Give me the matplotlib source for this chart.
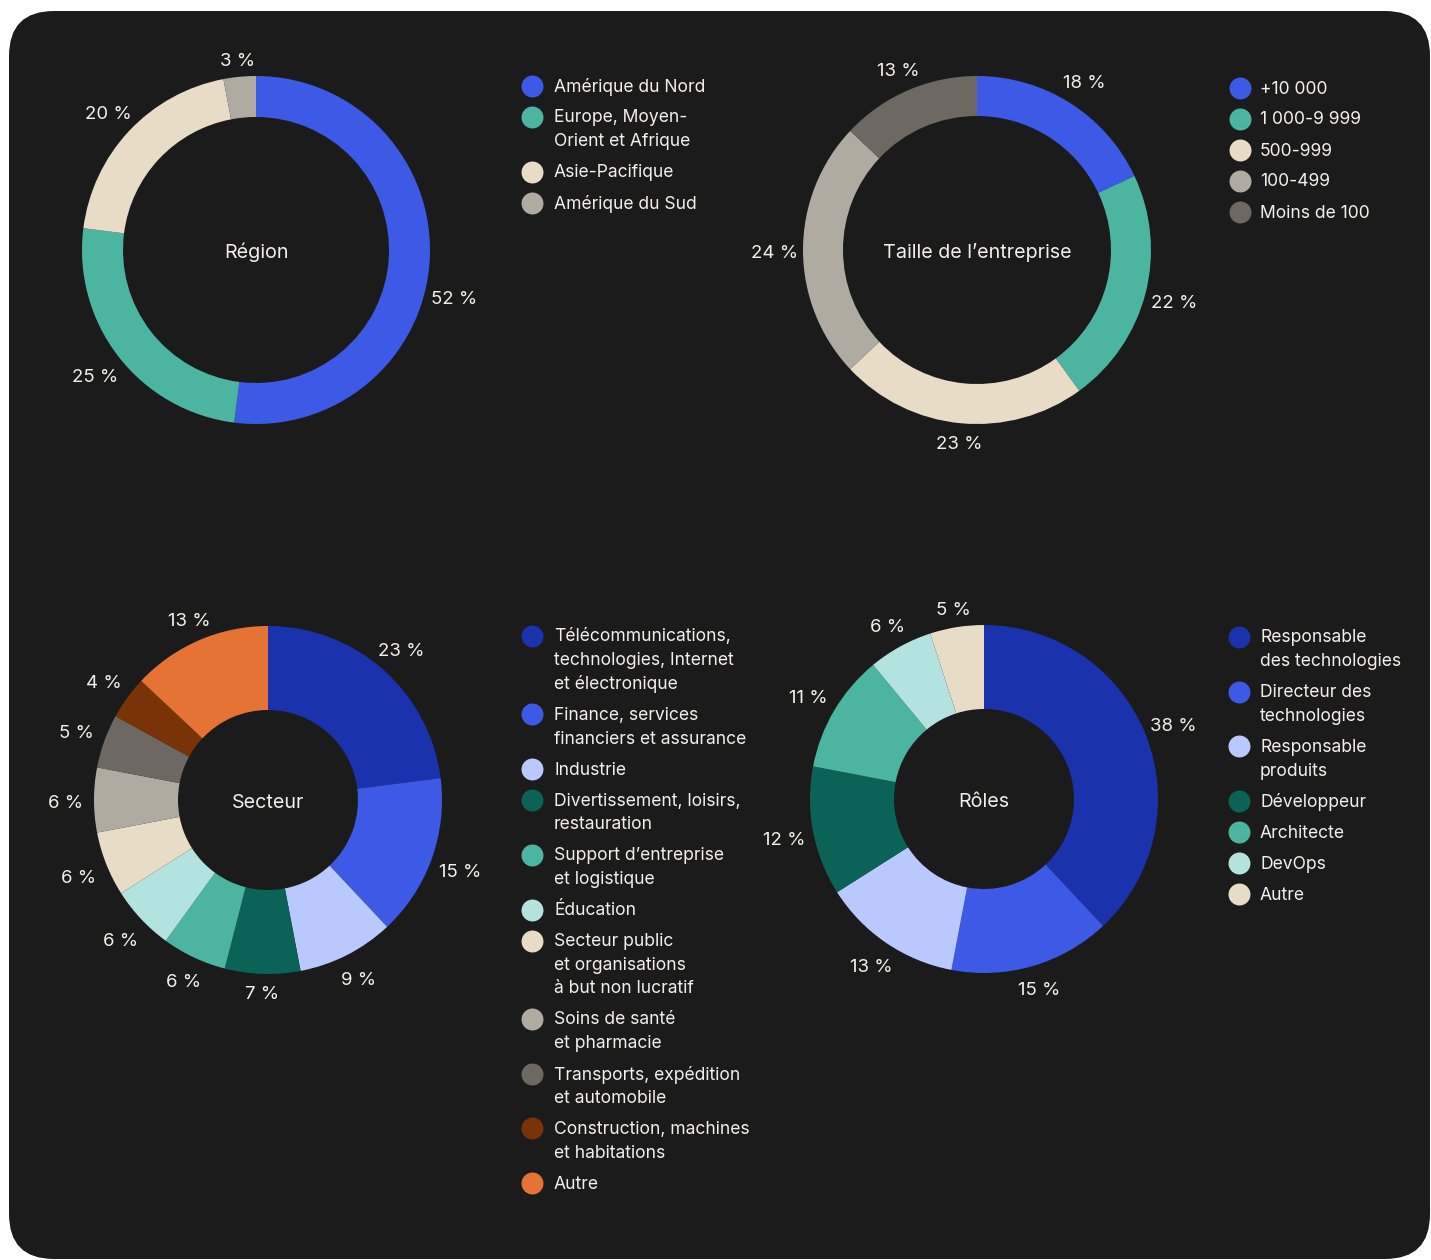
import numpy as np
import matplotlib.pyplot as plt
from matplotlib.patches import FancyBboxPatch

W, H = 1431, 1260

# --- donnees ---
region_labels = ["Amérique du Nord", "Europe, Moyen-\nOrient et Afrique", "Asie-Pacifique", "Amérique du Sud"]
region_values = [52, 25, 20, 3]

taille_labels = ["+10 000", "1 000-9 999", "500-999", "100-499", "Moins de 100"]
taille_values = [18, 22, 23, 24, 13]

secteur_labels = [
    "Télécommunications,\ntechnologies, Internet\net électronique",
    "Finance, services\nfinanciers et assurance",
    "Industrie",
    "Divertissement, loisirs,\nrestauration",
    "Support d’entreprise\net logistique",
    "Éducation",
    "Secteur public\net organisations\nà but non lucratif",
    "Soins de santé\net pharmacie",
    "Transports, expédition\net automobile",
    "Construction, machines\net habitations",
    "Autre",
]
secteur_values = [23, 15, 9, 7, 6, 6, 6, 6, 5, 4, 13]

roles_labels = [
    "Responsable\ndes technologies",
    "Directeur des\ntechnologies",
    "Responsable\nproduits",
    "Développeur",
    "Architecte",
    "DevOps",
    "Autre",
]
roles_values = [38, 15, 13, 12, 11, 6, 5]

# couleurs
BLUE = "#3d5ae6"
DBLUE = "#1b32ad"
LBLUE = "#b9c8ff"
TEAL = "#4bb5a2"
DTEAL = "#0b6257"
LTEAL = "#b2e3de"
BEIGE = "#e8dcc7"
GREY = "#afaba1"
DGREY = "#6d6862"
BROWN = "#7a3306"
ORANGE = "#e47334"
BG = "#1b1b1b"
TXT = "#f2f0ec"

region_colors = [BLUE, TEAL, BEIGE, GREY]
taille_colors = [BLUE, TEAL, BEIGE, GREY, DGREY]
secteur_colors = [DBLUE, BLUE, LBLUE, DTEAL, TEAL, LTEAL, BEIGE, GREY, DGREY, BROWN, ORANGE]
roles_colors = [DBLUE, BLUE, LBLUE, DTEAL, TEAL, LTEAL, BEIGE]

plt.rcParams["font.family"] = ["Inter", "DejaVu Sans"]
FS = 12.6       # legendes
FS_PCT = 13.4   # pourcentages
FS_TITLE = 14.2 # titre au centre

fig = plt.figure(figsize=(W / 100, H / 100), dpi=100, facecolor="white")
ax = fig.add_axes([0, 0, 1, 1])
ax.axis("off")

ax.add_patch(FancyBboxPatch((9, H - 1259), 1421, 1248,
                            boxstyle="round,pad=0,rounding_size=45",
                            facecolor=BG, edgecolor="none", zorder=0))


def donut(values, colors, cx, cy, r_in, title, nudge=None):
    # cx, cy en coordonnees image (y vers le bas)
    r_out = 174
    ax.pie(values, colors=colors, startangle=90, counterclock=False,
           radius=r_out, center=(cx, H - cy), frame=True,
           wedgeprops=dict(width=r_out - r_in, linewidth=0))
    ax.text(cx, H - cy - 8, title, ha="center", va="baseline", color=TXT,
            fontsize=FS_TITLE)
    cum = np.cumsum([0] + list(values))
    total = cum[-1]
    for i, v in enumerate(values):
        mid = 90 - 360 * (cum[i] + v / 2) / total
        if nudge and i in nudge:
            mid += nudge[i]
        a = np.radians(mid)
        # la boite du texte est plus large que haute
        rl = 182 + 20 * abs(np.cos(a)) + 9 * abs(np.sin(a))
        ax.text(cx + rl * np.cos(a), H - cy + rl * np.sin(a) - 3, f"{v} %",
                ha="center", va="center", color=TXT, fontsize=FS_PCT)


def legend(labels, colors, x, y0, text_dx=22):
    y = y0
    for lab, col in zip(labels, colors):
        ax.scatter([x], [H - y], s=250, color=col, linewidths=0, zorder=3)
        lines = lab.split("\n")
        for j, line in enumerate(lines):
            ax.text(x + text_dx, H - y - 1, line, ha="left", va="center",
                    color=TXT, fontsize=FS)
            if j < len(lines) - 1:
                y += 23.7
        y += 31


donut(region_values, region_colors, 256, 250, 133, "Région", nudge={0: -9.6})
donut(taille_values, taille_colors, 977, 250, 134, "Taille de l’entreprise")
donut(secteur_values, secteur_colors, 268, 800, 90, "Secteur")
donut(roles_values, roles_colors, 984, 799, 90, "Rôles")

legend(region_labels, region_colors, 532, 86)
legend(taille_labels, taille_colors, 1240, 88, text_dx=20)
legend(secteur_labels, secteur_colors, 532, 636)
legend(roles_labels, roles_colors, 1239, 637, text_dx=21)

ax.set_xlim(0, W)
ax.set_ylim(0, H)
ax.set_aspect("auto")
ax.axis("off")

fig.savefig("out.png", dpi=100, facecolor="white")
